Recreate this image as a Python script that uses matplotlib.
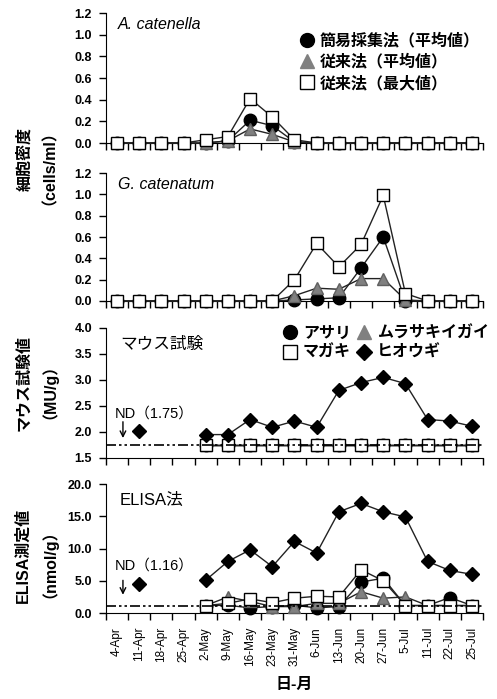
import numpy as np
import matplotlib
matplotlib.use('Agg')
import matplotlib.pyplot as plt
from matplotlib.lines import Line2D

plt.rcParams['font.family'] = ['Liberation Sans', 'Noto Sans CJK JP']

nan = np.nan

dates = ['4-Apr', '11-Apr', '18-Apr', '25-Apr', '2-May', '9-May', '16-May', '23-May',
         '31-May', '6-Jun', '13-Jun', '20-Jun', '27-Jun', '5-Jul', '11-Jul', '22-Jul', '25-Jul']

# A. catenella cell density (cells/ml)
ac_simple = [0, 0, 0, 0, 0, 0.02, 0.21, 0.16, 0.01, 0, 0, 0, 0, 0, 0, 0, 0]
ac_conv_mean = [0, 0, 0, 0, 0, 0.02, 0.13, 0.08, 0.01, 0, 0, 0, 0, 0, 0, 0, 0]
ac_conv_max = [0, 0, 0, 0, 0.03, 0.06, 0.41, 0.24, 0.03, 0, 0, 0, 0, 0, 0, 0, 0]

# G. catenatum cell density (cells/ml)
gc_simple = [0, 0, 0, 0, 0, 0, 0, 0, 0.01, 0.02, 0.03, 0.31, 0.60, 0.0, 0, 0, 0]
gc_conv_mean = [0, 0, 0, 0, 0, 0, 0, 0, 0.05, 0.12, 0.11, 0.21, 0.21, 0.01, 0, 0, 0]
gc_conv_max = [0, 0, 0, 0, 0, 0, 0, 0, 0.20, 0.54, 0.32, 0.53, 0.99, 0.07, 0, 0, 0]

# mouse bioassay (MU/g), ND = 1.75
mouse_nd = 1.75
ms_asari = [nan, nan, nan, nan] + [1.75] * 13
ms_murasaki = [nan, nan, nan, nan] + [1.75] * 13
ms_magaki = [nan, nan, nan, nan] + [1.75] * 13
ms_hiougi = [nan, 2.02, nan, nan, 1.95, 1.95, 2.24, 2.09, 2.21, 2.09, 2.80, 2.95, 3.05, 2.93, 2.24, 2.21, 2.11]

# ELISA (nmol/g), ND = 1.16
elisa_nd = 1.16
el_asari = [nan, nan, nan, nan, 1.16, 1.2, 0.8, 1.0, 1.2, 0.8, 1.0, 4.8, 5.4, 1.16, 1.16, 2.4, 1.16]
el_murasaki = [nan, nan, nan, nan, 1.16, 2.5, 1.8, 1.0, 1.0, 1.5, 1.5, 3.3, 2.3, 2.5, 1.16, 1.16, 1.16]
el_magaki = [nan, nan, nan, nan, 1.16, 1.5, 2.2, 1.6, 2.3, 2.6, 2.5, 6.7, 5.0, 1.16, 1.16, 1.16, 1.16]
el_hiougi = [nan, 4.5, nan, nan, 5.1, 8.0, 9.8, 7.2, 11.1, 9.3, 15.7, 17.0, 15.7, 14.9, 8.0, 6.6, 6.0]

x = np.arange(len(dates))
lc = '#222222'
circ = dict(marker='o', ms=9, mfc='black', mec='black', color=lc, lw=1, clip_on=False)
tri = dict(marker='^', ms=9, mfc='#808080', mec='#606060', color=lc, lw=1, clip_on=False)
sq = dict(marker='s', ms=9, mfc='white', mec='black', mew=1, color=lc, lw=1, clip_on=False)
dia = dict(marker='D', ms=7.5, mfc='black', mec='black', color=lc, lw=1, clip_on=False)

fig = plt.figure(figsize=(4.97, 6.99), dpi=100)
L, W = 0.213, 0.759
ax1 = fig.add_axes([L, 0.7954, W, 0.186])
ax2 = fig.add_axes([L, 0.5694, W, 0.183])
ax3 = fig.add_axes([L, 0.3448, W, 0.186])
ax4 = fig.add_axes([L, 0.1230, W, 0.1845])

for ax in (ax1, ax2, ax3, ax4):
    ax.set_xlim(-0.5, len(dates) - 0.5)
    ax.spines['top'].set_visible(False)
    ax.spines['right'].set_visible(False)
    ax.set_xticks(np.arange(-0.5, len(dates), 1.0))
    ax.set_xticklabels([])
    ax.tick_params(axis='both', direction='out', length=5, width=1)
    ax.tick_params(axis='y', labelsize=9, pad=5)

# cell density panels
for ax, s, m, mx, name in ((ax1, ac_simple, ac_conv_mean, ac_conv_max, 'A. catenella'),
                           (ax2, gc_simple, gc_conv_mean, gc_conv_max, 'G. catenatum')):
    ax.plot(x, s, zorder=3, **circ)
    ax.plot(x, m, zorder=4, **tri)
    ax.plot(x, mx, zorder=5, **sq)
    ax.set_ylim(0, 1.2)
    ax.set_yticks(np.arange(0, 1.21, 0.2))
    ax.set_yticklabels(['%.1f' % v for v in np.arange(0, 1.21, 0.2)], fontweight='bold')
    ax.text(0.032, 0.91, name, transform=ax.transAxes, style='italic', fontsize=11.5, va='center')

handles1 = [Line2D([], [], ls='none', marker='o', ms=10, mfc='black', mec='black'),
            Line2D([], [], ls='none', marker='^', ms=10, mfc='#808080', mec='#808080'),
            Line2D([], [], ls='none', marker='s', ms=10, mfc='white', mec='black')]
ax1.legend(handles1, ['簡易採集法（平均値）', '従来法（平均値）', '従来法（最大値）'],
           loc='upper left', bbox_to_anchor=(0.5, 0.9), frameon=False,
           prop=dict(size=11.5, weight='bold'),
           handlelength=0.8, handletextpad=0.4, labelspacing=0.35, borderaxespad=0)

# mouse bioassay panel
ax3.plot(x, ms_asari, zorder=3, **circ)
ax3.plot(x, ms_murasaki, zorder=4, **tri)
ax3.plot(x, ms_magaki, zorder=5, **sq)
ax3.plot(x, ms_hiougi, zorder=6, **dia)
ax3.axhline(mouse_nd, color='black', lw=1.2, dashes=(6, 1.8, 1.5, 1.8, 1.5, 1.8), zorder=7)
ax3.set_ylim(1.5, 4.0)
ax3.set_yticks(np.arange(1.5, 4.01, 0.5))
ax3.set_yticklabels(['%.1f' % v for v in np.arange(1.5, 4.01, 0.5)], fontweight='bold')
ax3.text(0.037, 0.87, 'マウス試験', transform=ax3.transAxes, fontsize=12, va='center')
ax3.text(-0.1, 2.36, 'ND（1.75）', fontsize=10.5, va='center', ha='left')
ax3.annotate('', xy=(0.27, 1.83), xytext=(0.27, 2.25),
             arrowprops=dict(arrowstyle='->', lw=1, color='black'))

handles3 = [Line2D([], [], ls='none', marker='o', ms=10, mfc='black', mec='black'),
            Line2D([], [], ls='none', marker='s', ms=10, mfc='white', mec='black'),
            Line2D([], [], ls='none', marker='^', ms=10, mfc='#808080', mec='#808080'),
            Line2D([], [], ls='none', marker='D', ms=8.5, mfc='black', mec='black')]
ax3.legend(handles3, ['アサリ', 'マガキ', 'ムラサキイガイ', 'ヒオウギ'], ncol=2,
           loc='upper left', bbox_to_anchor=(0.455, 1.065), frameon=False,
           prop=dict(size=11.5, weight='bold'),
           handlelength=0.8, handletextpad=0.4, labelspacing=0.25, columnspacing=0.4,
           borderaxespad=0)

# ELISA panel
ax4.plot(x, el_asari, zorder=3, **circ)
ax4.plot(x, el_murasaki, zorder=4, **tri)
ax4.plot(x, el_magaki, zorder=5, **sq)
ax4.plot(x, el_hiougi, zorder=6, **dia)
ax4.axhline(elisa_nd, color='black', lw=1.2, dashes=(6, 1.8, 1.5, 1.8, 1.5, 1.8), zorder=7)
ax4.set_ylim(0, 20)
ax4.set_yticks(np.arange(0, 20.1, 5))
ax4.set_yticklabels(['%.1f' % v for v in np.arange(0, 20.1, 5)], fontweight='bold')
ax4.text(0.037, 0.876, 'ELISA法', transform=ax4.transAxes, fontsize=12, va='center')
ax4.text(-0.1, 7.4, 'ND（1.16）', fontsize=10.5, va='center', ha='left')
ax4.annotate('', xy=(0.27, 2.4), xytext=(0.27, 5.5),
             arrowprops=dict(arrowstyle='->', lw=1, color='black'))

ax4.set_xticks(x, minor=True)
ax4.set_xticklabels(dates, minor=True, rotation=90, fontsize=8.5)
ax4.tick_params(axis='x', which='minor', length=0, pad=10)
ax4.set_xlabel('日-月', fontsize=11.5, fontweight='bold', labelpad=8)

# y-axis titles
fig.text(0.066, 0.772, '細胞密度\n（cells/ml）', rotation=90, ha='center', va='center',
         fontsize=11.5, fontweight='bold', multialignment='center', linespacing=1.15)
fig.text(0.066, 0.452, 'マウス試験値\n（MU/g）', rotation=90, ha='center', va='center',
         fontsize=11.5, fontweight='bold', multialignment='center', linespacing=1.15)
fig.text(0.066, 0.205, 'ELISA測定値\n（nmol/g）', rotation=90, ha='center', va='center',
         fontsize=11.5, fontweight='bold', multialignment='center', linespacing=1.15)

fig.savefig('out.png', dpi=100)
